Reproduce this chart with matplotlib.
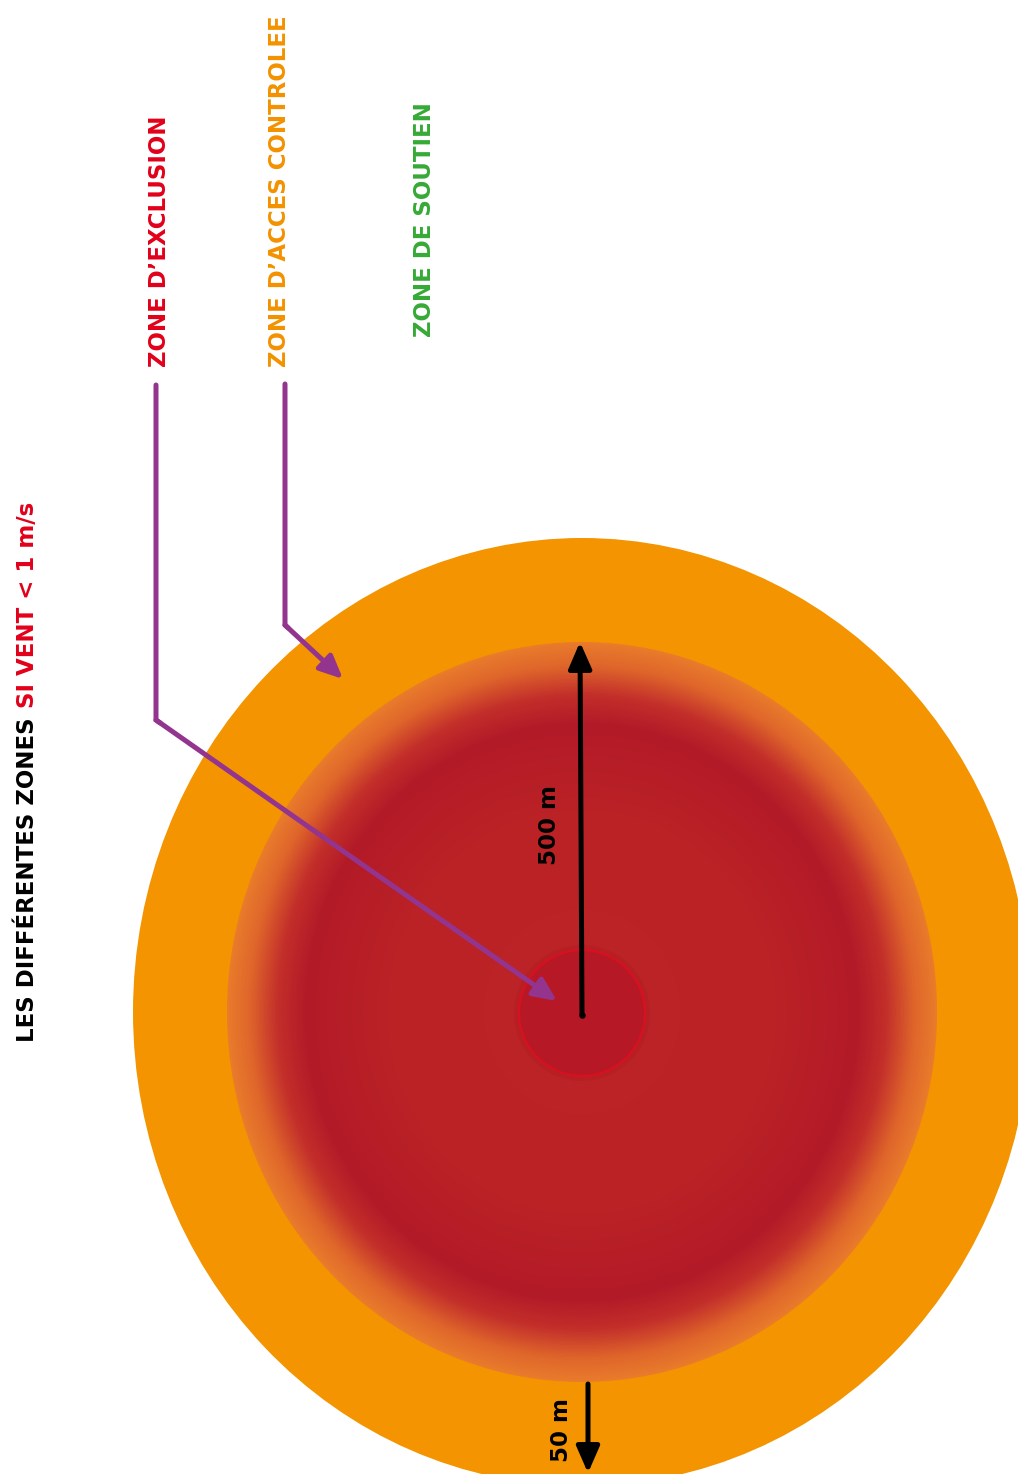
import matplotlib
matplotlib.use("Agg")
import matplotlib.pyplot as plt
from matplotlib.patches import Ellipse, Circle
from matplotlib.colors import LinearSegmentedColormap
import numpy as np

plt.rcParams['font.family'] = ['DejaVu Sans']

# textes du schéma
titre_noir = "LES DIFFÉRENTES ZONES"
titre_rouge = "SI VENT < 1 m/s"
zones = ["ZONE D’EXCLUSION", "ZONE D’ACCES CONTROLEE", "ZONE DE SOUTIEN"]
couleurs_zones = ["#E2001A", "#F39200", "#35A936"]
distances = ["500 m", "50 m"]

violet = "#93348F"
orange = "#F39400"

W, H = 1018, 1474
fig = plt.figure(figsize=(W / 100, H / 100), dpi=100)
ax = fig.add_axes([0, 0, 1, 1])

cx, cy = 582, 1012

# grand disque orange (zone d'accès contrôlé)
ax.add_patch(Ellipse((cx, cy), 2 * 449, 2 * 474, color=orange, zorder=1, lw=0))

# disque rouge en dégradé (zone d'exclusion)
rx, ry = 355, 370
xs = np.linspace(cx - rx, cx + rx, 700)
ys = np.linspace(cy - ry, cy + ry, 700)
X, Y = np.meshgrid(xs, ys)
R = np.sqrt(((X - cx) / rx) ** 2 + ((Y - cy) / ry) ** 2)
degrade = LinearSegmentedColormap.from_list("degrade", [
    (0.0, "#BD2427"), (0.55, "#BA2226"), (0.78, "#B31A28"),
    (0.86, "#C32F2A"), (0.94, "#DF662B"), (1.0, "#E97B2B")])
im = ax.imshow(np.clip(R, 0, 1), cmap=degrade, vmin=0, vmax=1,
               extent=(cx - rx, cx + rx, cy + ry, cy - ry), zorder=2,
               interpolation='bilinear')
bord = Ellipse((cx, cy), 2 * rx, 2 * ry, fc='none', ec='none')
ax.add_patch(bord)
im.set_clip_path(bord)

# petit disque central
ax.add_patch(Circle((cx, cy + 1), 68, fc="#A81622", ec='none', alpha=0.25, zorder=3))
ax.add_patch(Circle((cx, cy + 1), 63, fc="#B71826", ec="#D8101F", lw=1.6, zorder=3))

# flèches violettes
fleche_v = dict(arrowstyle='-|>,head_length=0.7,head_width=0.32', lw=3.6,
                color=violet, shrinkA=0, shrinkB=0, mutation_scale=20)
ax.plot([156, 156, 160], [385, 720, 722.8], color=violet, lw=3.6,
        solid_capstyle='round', solid_joinstyle='miter', zorder=5)
ax.annotate('', xy=(557, 1001), xytext=(156, 720), arrowprops=fleche_v, zorder=5)
ax.plot([285, 285, 288], [384, 625, 627.8], color=violet, lw=3.6,
        solid_capstyle='round', solid_joinstyle='miter', zorder=5)
ax.annotate('', xy=(343, 679), xytext=(285, 625), arrowprops=fleche_v, zorder=5)

# flèches noires des distances
fleche_n = dict(arrowstyle='-|>,head_length=0.8,head_width=0.35', lw=3.6,
                color='black', shrinkA=0, shrinkB=0, mutation_scale=20)
ax.plot([582], [1015], 'o', color='black', ms=3.6, zorder=6)
ax.annotate('', xy=(580, 642), xytext=(582, 1015), arrowprops=fleche_n, zorder=6)
ax.annotate('', xy=(588, 1473), xytext=(588, 1384), arrowprops=fleche_n, zorder=6)

ax.set_xlim(0, W)
ax.set_ylim(H, 0)
ax.axis('off')

fs = 16.5
opts = dict(rotation=90, rotation_mode='anchor', ha='left', va='baseline',
            fontsize=fs, fontweight='bold', zorder=7)

# titre en deux couleurs
t1 = ax.text(34, 1042, titre_noir, color='black', **opts)
fig.canvas.draw()
bb = t1.get_window_extent()
haut = ax.transData.inverted().transform((0, bb.y1))[1]
ax.text(34, haut - 9, titre_rouge, color="#E2001A", **opts)

# noms des zones
ax.text(166, 367, zones[0], color=couleurs_zones[0], **opts)
ax.text(286, 367, zones[1], color=couleurs_zones[1], **opts)
ax.text(431, 337, zones[2], color=couleurs_zones[2], **opts)

# distances
ax.text(556, 865, distances[0], color='black', **opts)
ax.text(568, 1462, distances[1], color='black', **opts)

fig.savefig("out.png", dpi=100)
